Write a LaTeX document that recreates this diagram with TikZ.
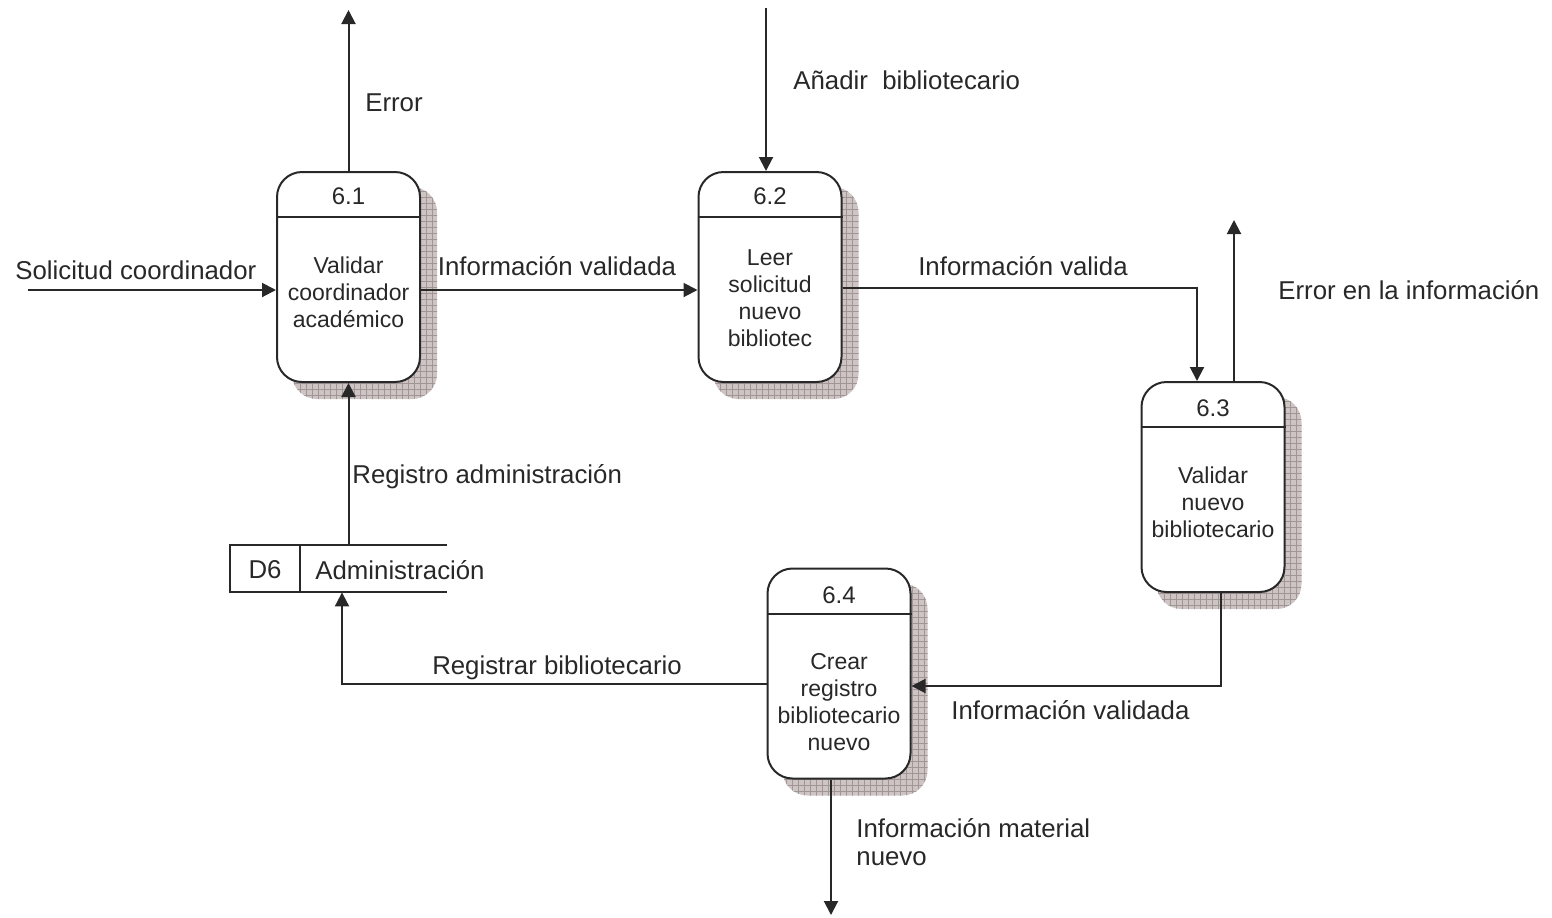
\documentclass[tikz,border=0pt]{standalone}
\usepackage{fontspec}
\setmainfont{Liberation Sans}
\usetikzlibrary{arrows.meta, positioning, calc, patterns, backgrounds}

\definecolor{sombragris}{RGB}{206,196,196}
\definecolor{rejillagris}{RGB}{160,150,150}
\definecolor{linea}{RGB}{40,40,40}

\tikzset{
  proc/.style={draw=linea, line width=1pt, rounded corners=12.5pt, fill=white,
    minimum width=71.5pt, minimum height=105pt, inner sep=0pt},
  sombra/.style={rounded corners=12.5pt, fill=sombragris,
    postaction={pattern=grid, pattern color=rejillagris}},
  flujo/.style={draw=linea, line width=1pt, -{Triangle[length=7pt,width=7pt]}},
  etiq/.style={font=\fontsize{12.9}{14}\selectfont, text=linea, inner sep=0pt},
  txt/.style={font=\fontsize{11.5}{13.4}\selectfont, text=linea, align=center, inner sep=0pt},
}

\begin{document}
\begin{tikzpicture}[x=0.5pt, y=-0.5pt]
    \useasboundingbox (0,0) rectangle (1552,917);
    % Processes
    \node[proc] (p61) at (348.5,277) {};
    \node[proc] (p62) at (770,277) {};
    \node[proc] (p63) at (1213,487) {};
    \node[proc] (p64) at (839,673.5) {};
    \begin{scope}[on background layer]
        \foreach \p in {p61,p62,p63,p64}
            \fill[sombra] ($(\p.south west)+(16,16)$) rectangle ($(\p.north east)+(16,16)$);
    \end{scope}
    \foreach \p in {p61,p62,p63,p64}
        \draw[linea, line width=1pt] ($(\p.north west)+(0,46)$) -- ($(\p.north east)+(0,46)$);
    % Numbers and texts
    \node[txt, font=\fontsize{12}{14}\selectfont] (n61) at (348.5,196) {6.1};
    \node[txt, font=\fontsize{12}{14}\selectfont] (n62) at (770,196) {6.2};
    \node[txt, font=\fontsize{12}{14}\selectfont] (n63) at (1213,408) {6.3};
    \node[txt, font=\fontsize{12}{14}\selectfont] (n64) at (839,595) {6.4};
    \node[txt] (t61) at (348.5,292) {Validar\\coordinador\\académico};
    \node[txt] (t62) at (770,298) {Leer\\solicitud\\nuevo\\bibliotec};
    \node[txt] (t63) at (1213,502) {Validar\\nuevo\\bibliotecario};
    \node[txt] (t64) at (839,702) {Crear\\registro\\bibliotecario\\nuevo};
    % Data store
    \node[minimum width=108.5pt, minimum height=23.5pt, inner sep=0pt] (alm) at (338.5,568.5) {};
    \draw[linea, line width=1pt] (alm.north east) -- (alm.north west) -- (alm.south west) -- (alm.south east);
    \draw[linea, line width=1pt] (alm.north west) ++(70,0) coordinate (div) -- (div |- alm.south);
    \node[etiq] (d6) at (265,570) {D6};
    \node[etiq, anchor=west] (adm) at (315,570) {Administración};
    % Free ends
    \coordinate (err1) at (348.5,10);
    \coordinate (ana) at (766,8);
    \coordinate (sol) at (28,290);
    \coordinate (err3) at (1234,220);
    \coordinate (mat) at (831,915);
    % Flows
    \draw[flujo] (p61.north) -- (err1);
    \draw[flujo] (ana) -- (ana |- p62.north);
    \draw[flujo] (sol) -- (sol -| p61.west);
    \draw[flujo] ([yshift=-6.5pt]p61.east) -- ([yshift=-6.5pt]p62.west);
    \draw[flujo] ([yshift=-5.5pt]p62.east) -| ([xshift=-8pt]p63.north);
    \draw[flujo] (err3 |- p63.north) -- (err3);
    \draw[flujo] ([xshift=4pt]p63.south) |- ([yshift=-6.25pt]p64.east);
    \draw[flujo] ([yshift=-5.25pt]p64.west) -| ([xshift=1.75pt]alm.south);
    \draw[flujo] (alm.north -| p61.south) -- (p61.south);
    \draw[flujo] ([xshift=-4pt]p64.south) -- ([xshift=-4pt]p64.south |- mat);
    % Flow labels
    \node[etiq] (l1) at (394,103) {Error};
    \node[etiq, anchor=west] (l2) at (793,80) {Añadir\ \ bibliotecario};
    \node[etiq, anchor=west] (l3) at (15,270) {Solicitud coordinador};
    \node[etiq] (l4) at (557,266) {Información validada};
    \node[etiq] (l5) at (1023,266) {Información valida};
    \node[etiq, anchor=west] (l6) at (1278,290) {Error en la información};
    \node[etiq, anchor=west] (l7) at (352,477) {Registro administración};
    \node[etiq] (l8) at (557,668) {Registrar bibliotecario};
    \node[etiq, anchor=west] (l9) at (951,710) {Información validada};
    \node[etiq, anchor=west, align=left, font=\fontsize{12.9}{14}\selectfont] (l10) at (856,842) {Información material\\nuevo};
\end{tikzpicture}
\end{document}
